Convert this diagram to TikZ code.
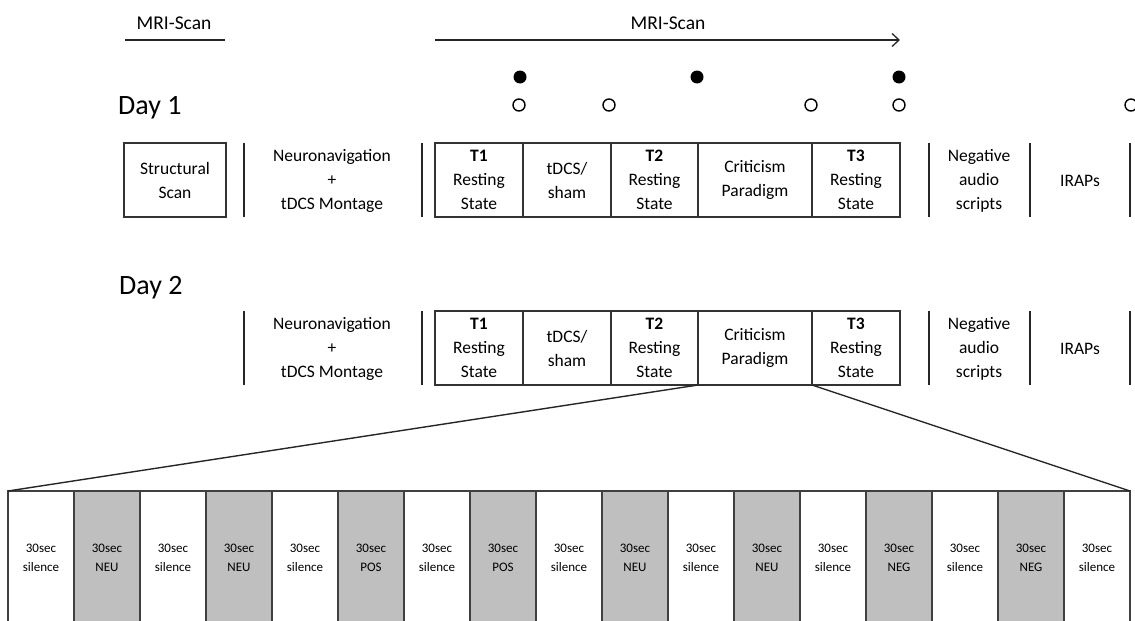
\documentclass[tikz,border=0pt]{standalone}
\usepackage{fontspec}
\setmainfont{Carlito}
\usetikzlibrary{arrows.meta}
\begin{document}
\begin{tikzpicture}[x=1pt,y=-1pt,
  boxtxt/.style={font=\fontsize{17.5}{24}\selectfont, align=center, inner sep=0pt, outer sep=0pt},
  cell/.style={boxtxt, draw=black!80, line width=1.3pt, minimum height=74pt, minimum width=#1},
  bar/.style={line width=1.3pt, draw=black!85},
  seg/.style={draw=black!75, line width=1.5pt, minimum width=66pt, minimum height=134pt, inner sep=0pt, outer sep=0pt, align=center, font=\fontsize{13}{19}\selectfont},
  sil/.style={seg, fill=white},
  emo/.style={seg, fill=black!25},
  fdot/.style={circle, fill=black, minimum size=13pt, inner sep=0pt},
  odot/.style={circle, draw=black, line width=1.4pt, minimum size=12pt, inner sep=0pt},
  daytxt/.style={font=\fontsize{28}{32}\selectfont, anchor=west, inner sep=0pt},
  mritxt/.style={font=\fontsize{19.5}{22}\selectfont, inner sep=0pt},
  zoomline/.style={line width=1.4pt, draw=black!85},
]
\useasboundingbox (0,0) rectangle (1135,621);
\clip (0,0) rectangle (1135,621);

% top MRI-Scan labels
\node[mritxt] (mri1) at (174,23) {MRI-Scan};
\coordinate (l1a) at (125,40);
\coordinate (l1b) at (225,40);
\draw[bar] (l1a) -- (l1b);
\node[mritxt] (mri2) at (668,23) {MRI-Scan};
\coordinate (a1) at (435,40);
\coordinate (a2) at (900,40);
\draw[bar, -{Straight Barb[length=7pt,width=13pt]}] (a1) -- (a2);

% dots
\node[fdot] (f1) at (520,77) {};
\node[fdot] (f2) at (697,77) {};
\node[fdot] (f3) at (899,77) {};
\node[odot] (o1) at (519,105) {};
\node[odot] (o2) at (609,105) {};
\node[odot] (o3) at (811,105) {};
\node[odot] (o4) at (899,105) {};
\node[odot] (o5) at (1131,105) {};

% Day labels
\node[daytxt] (day1) at (118,108) {Day 1};
\node[daytxt] (day2) at (119,288) {Day 2};

% Day 1 row
\node[cell=102pt] (ss) at (175,180) {Structural\\Scan};
\draw[bar] (244,143) -- (244,217);
\node[boxtxt] (nn1) at (332,181) {Neuronavigation\\+\\tDCS Montage};
\draw[bar] (422,143) -- (422,217);
\node[cell=88pt] (c11) at (479,180) {\textbf{T1}\\Resting\\State};
\node[cell=88pt] (c12) at (567,180) {tDCS/\\sham};
\node[cell=87pt] (c13) at (654.5,180) {\textbf{T2}\\Resting\\State};
\node[cell=114pt] (c14) at (755,180) {Criticism\\Paradigm};
\node[cell=88pt] (c15) at (856,180) {\textbf{T3}\\Resting\\State};
\draw[bar] (929,143) -- (929,217);
\node[boxtxt] (na1) at (979,181) {Negative\\audio\\scripts};
\draw[bar] (1030,143) -- (1030,217);
\node[boxtxt] (ir1) at (1080,181) {IRAPs};
\draw[bar] (1130,143) -- (1130,217);

% Day 2 row
\draw[bar] (244,311) -- (244,385);
\node[boxtxt] (nn2) at (332,349) {Neuronavigation\\+\\tDCS Montage};
\draw[bar] (422,311) -- (422,385);
\node[cell=88pt] (c21) at (479,348) {\textbf{T1}\\Resting\\State};
\node[cell=88pt] (c22) at (567,348) {tDCS/\\sham};
\node[cell=87pt] (c23) at (654.5,348) {\textbf{T2}\\Resting\\State};
\node[cell=114pt] (c24) at (755,348) {Criticism\\Paradigm};
\node[cell=88pt] (c25) at (856,348) {\textbf{T3}\\Resting\\State};
\draw[bar] (929,311) -- (929,385);
\node[boxtxt] (na2) at (979,349) {Negative\\audio\\scripts};
\draw[bar] (1030,311) -- (1030,385);
\node[boxtxt] (ir2) at (1080,349) {IRAPs};
\draw[bar] (1130,311) -- (1130,385);

% bottom strip
\foreach \i/\t/\s in {1/silence/sil,2/NEU/emo,3/silence/sil,4/NEU/emo,5/silence/sil,6/POS/emo,7/silence/sil,8/POS/emo,9/silence/sil,10/NEU/emo,11/silence/sil,12/NEU/emo,13/silence/sil,14/NEG/emo,15/silence/sil,16/NEG/emo,17/silence/sil}{
  \node[\s] (s\i) at ({8+33+66*(\i-1)},558) {30sec\\\t};
}

% zoom lines
\draw[zoomline] (c24.south west) -- (s1.north west);
\draw[zoomline] (c24.south east) -- (s17.north east);
\end{tikzpicture}
\end{document}
